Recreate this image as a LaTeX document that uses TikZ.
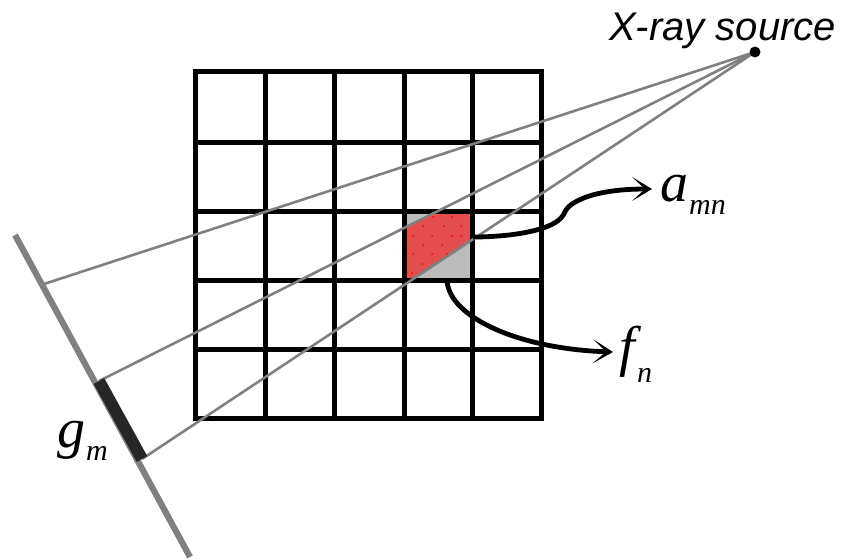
\documentclass[tikz,border=0pt]{standalone}
\usepackage{fontspec}
\setmainfont{Liberation Serif}
\newfontfamily\labelsans{Liberation Sans}
\usetikzlibrary{arrows.meta}
\definecolor{cellgray}{RGB}{188,188,188}
\definecolor{cellred}{RGB}{228,78,78}
\definecolor{raygray}{RGB}{128,128,128}
\tikzset{
  gridline/.style={line width=5pt,black,line cap=rect},
  ray/.style={line width=2.6pt,raygray},
  detector/.style={line width=6.2pt,raygray},
  hit/.style={line width=12pt,black!85},
  callout/.style={line width=4.8pt,black,-{Stealth[length=20pt,width=24pt,inset=13pt]}},
  speck/.style={fill=red,inner sep=0pt,minimum size=2pt,shape=circle},
  mathlabel/.style={anchor=base west,inner sep=0pt,font=\fontsize{56}{56}\selectfont\itshape},
  sublabel/.style={anchor=base west,inner sep=0pt,font=\fontsize{30}{30}\selectfont\itshape}
}
\begin{document}
\begin{tikzpicture}[x=1pt,y=-1pt]
\useasboundingbox (0,0) rectangle (845,559);
% cell fills
\fill[cellgray] (404,211) rectangle (472,280);
\fill[cellred] (404,228) -- (437,211) -- (472,211) -- (472,240) -- (411,280) -- (404,280) -- cycle;
\foreach \p in {(433,217),(452,217),(423,226),(444,226),(461,226),(413,236),(432,236),(452,236),(423,245),(442,245),(461,236),(413,254),(432,254),(447,254),(422,264),(412,273)}
  \path \p node[speck] {};
% grid
\foreach \x in {195,265,334,404,472,541}
  \draw[gridline] (\x,72) -- (\x,418);
\foreach \y in {72,142,211,280,349,418}
  \draw[gridline] (195,\y) -- (541,\y);
% anchors
\coordinate (detA) at (15,235);
\coordinate (detB) at (190,557);
\coordinate (ray1) at (44,284);
\coordinate (ray2) at (99,381);
\coordinate (ray3) at (142,459);
\coordinate (src) at (755,52);
% rays
\draw[ray] (src) -- (ray1);
\draw[ray] (src) -- (ray2);
\draw[ray] (src) -- (ray3);
\node[circle,fill=black,inner sep=0pt,minimum size=11pt] (srcdot) at (src) {};
% detector
\draw[detector] (detA) -- (detB);
\draw[hit] (ray2) -- (ray3);
% labels
\node[anchor=base west,inner sep=0pt,font=\labelsans\itshape\fontsize{40}{40}\selectfont] (xlab) at (609,41) {X-ray source};
\node[mathlabel] (alab) at (660,201) {a};
\node[sublabel] (asub) at (689,214) {mn};
\node[mathlabel] (flab) at (619,365) {f};
\node[sublabel] (fsub) at (637,382) {n};
\node[mathlabel] (glab) at (57,447) {g};
\node[sublabel] (gsub) at (86,460) {m};
% callouts
\coordinate (cellR) at (473,237);
\coordinate (cellB) at (447,281);
\coordinate (tipA) at (652,189);
\coordinate (tipF) at (613,352);
\draw[callout] (cellR) .. controls (505,237) and (548,232) .. (561,218)
  .. controls (567,211) and (563,211) .. (572,204)
  .. controls (590,192) and (620,189) .. (tipA);
\draw[callout] (cellB) .. controls (450,318) and (520,349) .. (tipF);
\end{tikzpicture}
\end{document}
